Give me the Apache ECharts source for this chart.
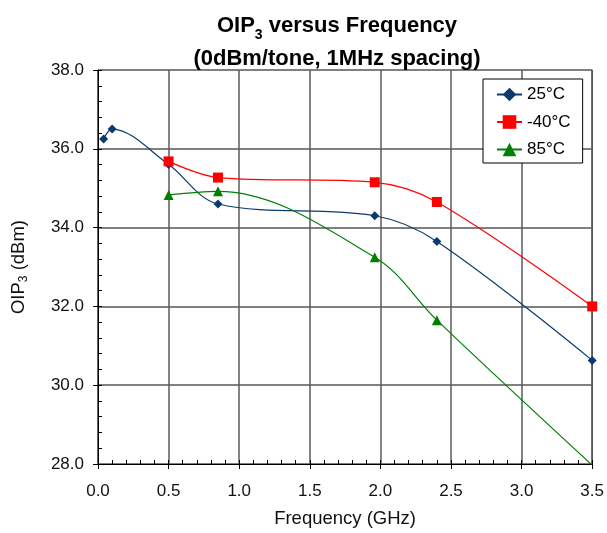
<!DOCTYPE html>
<html>
<head>
<meta charset="utf-8">
<script src="https://cdn.jsdelivr.net/npm/echarts@6/dist/echarts.min.js"></script>
<style>
html,body{margin:0;padding:0;background:#fff;}
#chart{width:607px;height:533px;}
</style>
</head>
<body>
<div id="chart"></div>
<script>
// Data
const seriesNames = ['25°C', '-40°C', '85°C'];
const freq25 = [0.04, 0.1, 0.5, 0.85, 1.96, 2.4, 3.5];
const oip25 = [36.25, 36.5, 35.6, 34.6, 34.3, 33.65, 30.63];
const freqM40 = [0.5, 0.85, 1.96, 2.4, 3.5];
const oipM40 = [35.68, 35.27, 35.15, 34.65, 32.0];
const freq85 = [0.5, 0.85, 1.96, 2.4, 3.5];
const oip85 = [34.83, 34.92, 33.25, 31.65, 27.97];
const xTicks = ['0.0', '0.5', '1.0', '1.5', '2.0', '2.5', '3.0', '3.5'];
const yTicks = ['28.0', '30.0', '32.0', '34.0', '36.0', '38.0'];

function pairs(xs, ys) { return xs.map((x, i) => [x, ys[i]]); }

const FONT = '"Liberation Sans", Arial, sans-serif';
const chart = echarts.init(document.getElementById('chart'), null, {renderer: 'canvas'});

chart.setOption({
  animation: false,
  backgroundColor: '#fff',
  textStyle: {fontFamily: FONT},
  title: {
    text: '{m|OIP}{s|3}{m| versus Frequency}\n{m|(0dBm/tone, 1MHz spacing)}',
    left: 332,
    top: 4,
    textAlign: 'center',
    textStyle: {
      fontFamily: FONT, fontSize: 22, fontWeight: 'bold', color: '#000', lineHeight: 33.5,
      rich: {
        m: {fontFamily: FONT, fontSize: 22, fontWeight: 'bold', color: '#000', lineHeight: 33.5},
        s: {fontFamily: FONT, fontSize: 14, fontWeight: 'bold', color: '#000', lineHeight: 20, verticalAlign: 'bottom'}
      }
    }
  },
  grid: {
    left: 98, right: 12, top: 70, bottom: 69,
    show: true, borderColor: '#000', borderWidth: 1, backgroundColor: '#fff'
  },
  legend: {
    orient: 'vertical',
    left: 483, top: 79,
    backgroundColor: '#fff',
    borderColor: '#000', borderWidth: 1,
    padding: [7, 12, 5, 13],
    itemGap: 10.5,
    itemWidth: 25, itemHeight: 17,
    textStyle: {fontFamily: FONT, fontSize: 17, color: '#000'},
    data: seriesNames
  },
  xAxis: [{
    type: 'value', min: 0, max: 3.5, interval: 0.5,
    name: 'Frequency (GHz)', nameLocation: 'middle', nameGap: 45,
    nameTextStyle: {fontFamily: FONT, fontSize: 18.5, color: '#111'},
    axisLine: {show: true, lineStyle: {color: '#000', width: 1}},
    axisTick: {show: true, length: 5, lineStyle: {color: '#000'}},
    axisLabel: {fontFamily: FONT, fontSize: 17, color: '#111', margin: 19,
      formatter: v => xTicks[Math.round(v / 0.5)]},
    splitLine: {show: true, lineStyle: {color: '#5a5a5a', width: 1.5}}
  }, {
    type: 'value', min: 0, max: 3.5, interval: 0.1, position: 'bottom',
    axisLine: {show: false},
    axisTick: {show: true, inside: true, length: 4, lineStyle: {color: '#000'}},
    axisLabel: {show: false},
    splitLine: {show: false}
  }],
  yAxis: [{
    type: 'value', min: 28, max: 38, interval: 2,
    name: '{m|OIP}{s|3}{m| (dBm)}', nameLocation: 'middle', nameGap: 68, nameRotate: 90,
    nameTextStyle: {fontFamily: FONT, fontSize: 18.5, color: '#111', lineHeight: 22,
      rich: {
        m: {fontFamily: FONT, fontSize: 18.5, color: '#111', lineHeight: 22},
        s: {fontFamily: FONT, fontSize: 12, color: '#111', lineHeight: 11, verticalAlign: 'bottom'}
      }},
    axisLine: {show: true, lineStyle: {color: '#000', width: 1}},
    axisTick: {show: true, length: 5, lineStyle: {color: '#000'}},
    axisLabel: {fontFamily: FONT, fontSize: 17, color: '#111', margin: 14,
      formatter: v => yTicks[Math.round((v - 28) / 2)]},
    splitLine: {show: true, lineStyle: {color: '#808080', width: 2}}
  }, {
    type: 'value', min: 28, max: 38, interval: 0.4, position: 'left',
    axisLine: {show: false},
    axisTick: {show: true, inside: true, length: 4, lineStyle: {color: '#000'}},
    axisLabel: {show: false},
    splitLine: {show: false}
  }],
  series: [{
    name: seriesNames[0], type: 'line', smooth: 0.35, clip: true,
    data: pairs(freq25, oip25),
    symbol: 'diamond', symbolSize: 9,
    itemStyle: {color: '#0b3a6e'},
    lineStyle: {color: '#0b3a6e', width: 1.2}
  }, {
    name: seriesNames[1], type: 'line', smooth: 0.35, clip: true,
    data: pairs(freqM40, oipM40),
    symbol: 'rect', symbolSize: 10,
    itemStyle: {color: '#ff0000'},
    lineStyle: {color: '#ff0000', width: 1.2}
  }, {
    name: seriesNames[2], type: 'line', smooth: 0.35, clip: true,
    data: pairs(freq85, oip85),
    symbol: 'triangle', symbolSize: 10,
    itemStyle: {color: '#008000'},
    lineStyle: {color: '#008000', width: 1.2}
  }]
});
</script>
</body>
</html>
